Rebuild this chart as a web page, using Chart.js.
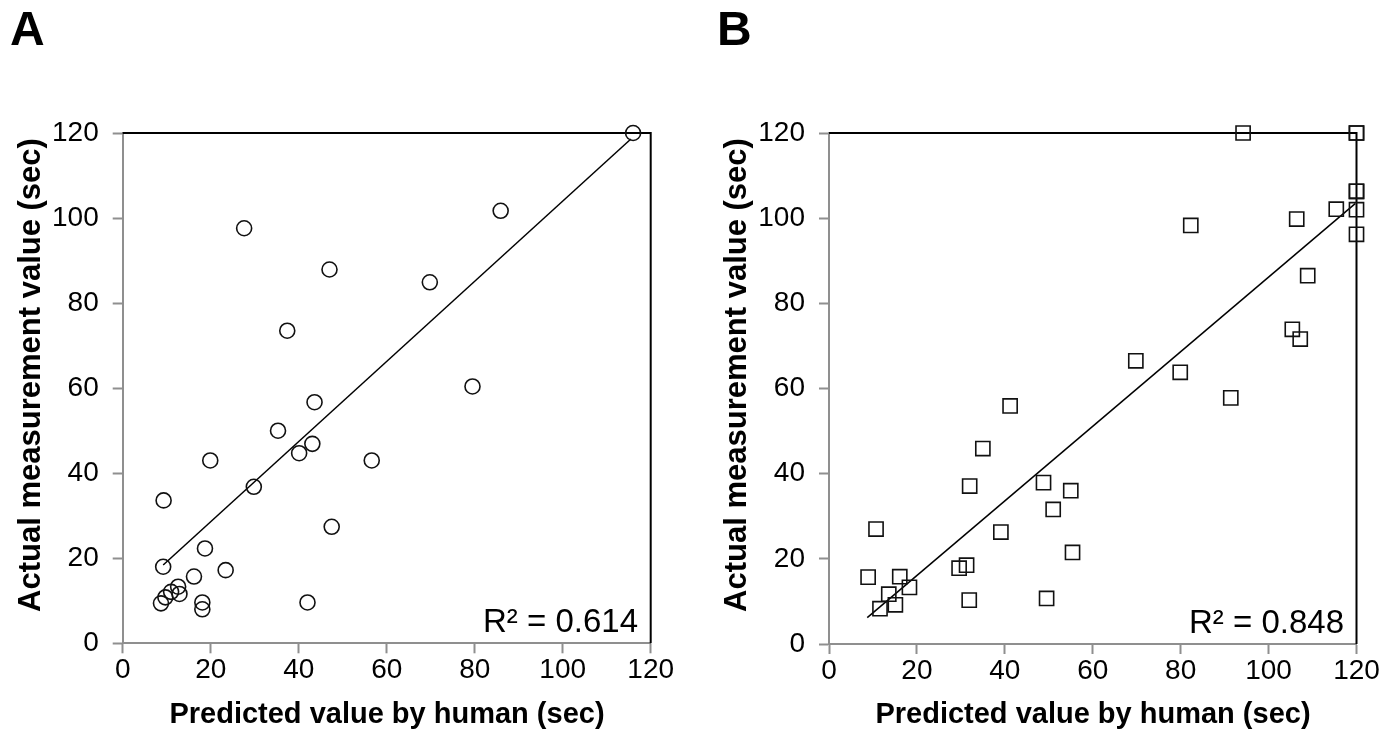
<!DOCTYPE html>
<html>
<head>
<meta charset="utf-8">
<script src="https://cdn.jsdelivr.net/npm/chart.js@4.4.0/dist/chart.umd.min.js"></script>
<style>
  html, body { margin: 0; padding: 0; background: #fff; }
  body { width: 1399px; height: 738px; position: relative; overflow: hidden; font-family: "Liberation Sans", Arial, sans-serif; color: #000; }
  canvas { position: absolute; top: 0; }
  .txt { position: absolute; white-space: nowrap; line-height: 1; }
  .panel { font-size: 48px; font-weight: bold; }
  .xtitle { font-size: 29px; font-weight: bold; transform: translate(-50%, -50%); }
  .ytitle { font-size: 31px; font-weight: bold; transform: translate(-50%, -50%) rotate(-90deg); }
  .r2 { font-size: 33px; transform: translateX(-100%); }
</style>
</head>
<body>
<canvas id="chartA" width="700" height="738" style="left:0px"></canvas>
<canvas id="chartB" width="699" height="738" style="left:700px"></canvas>

<div class="txt panel" style="left:10px; top:5px;">A</div>
<div class="txt panel" style="left:717px; top:5px;">B</div>

<div class="txt ytitle" style="left:29px; top:375px;">Actual measurement value (sec)</div>
<div class="txt ytitle" style="left:735px; top:375px;">Actual measurement value (sec)</div>
<div class="txt xtitle" style="left:387px; top:713px;">Predicted value by human (sec)</div>
<div class="txt xtitle" style="left:1093px; top:713px;">Predicted value by human (sec)</div>

<div class="txt r2" style="left:638px; top:604px;">R² = 0.614</div>
<div class="txt r2" style="left:1344px; top:605px;">R² = 0.848</div>

<script>
// axis range (both axes, both panels)
var axisMin = 0;
var axisMax = 120;
var axisStep = 20;

// panel A: predicted (x) vs actual (y), circles
var predA   = [27.6, 47.0, 37.4, 43.6, 35.3, 40.1, 43.1, 56.6, 19.9, 29.8, 9.3, 47.5, 18.7, 23.4,
               9.2, 16.2, 12.6, 12.9, 11.0, 9.7, 8.7, 18.1, 18.1, 42.0, 116.0, 85.9, 69.8, 79.5];
var actualA = [97.6, 87.9, 73.5, 56.7, 50.0, 44.7, 46.9, 43.0, 43.0, 36.8, 33.6, 27.4, 22.3, 17.2,
               18.0, 15.7, 13.3, 11.6, 12.1, 10.8, 9.4, 9.6, 8.0, 9.6, 120.0, 101.7, 84.9, 60.4];
// trend line A (end points)
var trendAx = [9.2, 115.5];
var trendAy = [18.4, 118.6];

// panel B: predicted (x) vs actual (y), squares
var predB   = [41.2, 35.0, 32.0, 48.8, 55.0, 51.0, 39.1, 10.7, 55.4, 29.6, 31.3, 8.9, 16.1, 18.3,
               13.6, 15.1, 11.6, 31.9, 49.5, 94.2, 120, 120, 120, 120, 120, 120, 115.4, 106.4,
               82.3, 108.9, 105.4, 107.2, 69.8, 79.9, 91.4];
var actualB = [55.9, 45.9, 37.1, 37.9, 36.0, 31.6, 26.3, 27.0, 21.5, 17.8, 18.5, 15.7, 15.8, 13.3,
               11.7, 9.2, 8.3, 10.3, 10.7, 120, 120, 120, 106.3, 106.3, 102.0, 96.2, 102.1, 99.8,
               98.3, 86.5, 73.9, 71.6, 66.5, 63.8, 57.8];
// trend line B (end points)
var trendBx = [8.7, 119.7];
var trendBy = [6.2, 103.4];

var axisGray = "#8f8f8f";
var fontFamily = "'Liberation Sans', Arial, sans-serif";

function toPoints(xs, ys) {
  return xs.map(function (x, i) { return { x: x, y: ys[i] }; });
}

// black frame on top and right side
var framePlugin = {
  id: "frame",
  beforeDatasetsDraw: function (chart) {
    var a = chart.chartArea;
    var ctx = chart.ctx;
    ctx.save();
    ctx.strokeStyle = "#000";
    ctx.lineWidth = 2;
    ctx.beginPath();
    ctx.moveTo(a.left, a.top);
    ctx.lineTo(a.right, a.top);
    ctx.lineTo(a.right, a.bottom);
    ctx.stroke();
    ctx.restore();
  }
};

function makeAxis(size, isX) {
  return {
    type: "linear",
    min: axisMin,
    max: axisMax,
    ticks: {
      stepSize: axisStep,
      color: "#000",
      padding: isX ? 0 : 14,
      font: { family: fontFamily, size: 28 }
    },
    grid: {
      drawOnChartArea: false,
      drawTicks: true,
      tickLength: 10,
      tickColor: axisGray,
      tickWidth: 2
    },
    border: { color: axisGray, width: 2 },
    afterFit: function (scale) {
      if (isX) scale.height = size; else scale.width = size;
    }
  };
}

function makeChart(id, xs, ys, tx, ty, style, radius, box) {
  var ctx = document.getElementById(id).getContext("2d");
  return new Chart(ctx, {
    type: "scatter",
    data: {
      datasets: [
        {
          data: toPoints(xs, ys),
          pointStyle: style,
          pointRadius: radius,
          pointBorderWidth: 1.6,
          pointBorderColor: "#111",
          pointBackgroundColor: "rgba(0,0,0,0)",
          clip: false
        },
        {
          data: toPoints(tx, ty),
          showLine: true,
          pointRadius: 0,
          borderColor: "#000",
          borderWidth: 1.5,
          clip: false
        }
      ]
    },
    options: {
      responsive: false,
      animation: false,
      devicePixelRatio: 1,
      layout: { padding: { top: box.top, right: box.right, left: 0, bottom: 0 } },
      plugins: { legend: { display: false }, tooltip: { enabled: false } },
      scales: {
        x: makeAxis(box.xh, true),
        y: makeAxis(box.yw, false)
      }
    },
    plugins: [framePlugin]
  });
}

makeChart("chartA", predA, actualA, trendAx, trendAy, "circle", 7.5,
  { top: 133, right: 49.3, xh: 94.7, yw: 122.7 });
makeChart("chartB", predB, actualB, trendBx, trendBy, "rect", 10,
  { top: 133, right: 42.5, xh: 94, yw: 129 });
</script>
</body>
</html>
